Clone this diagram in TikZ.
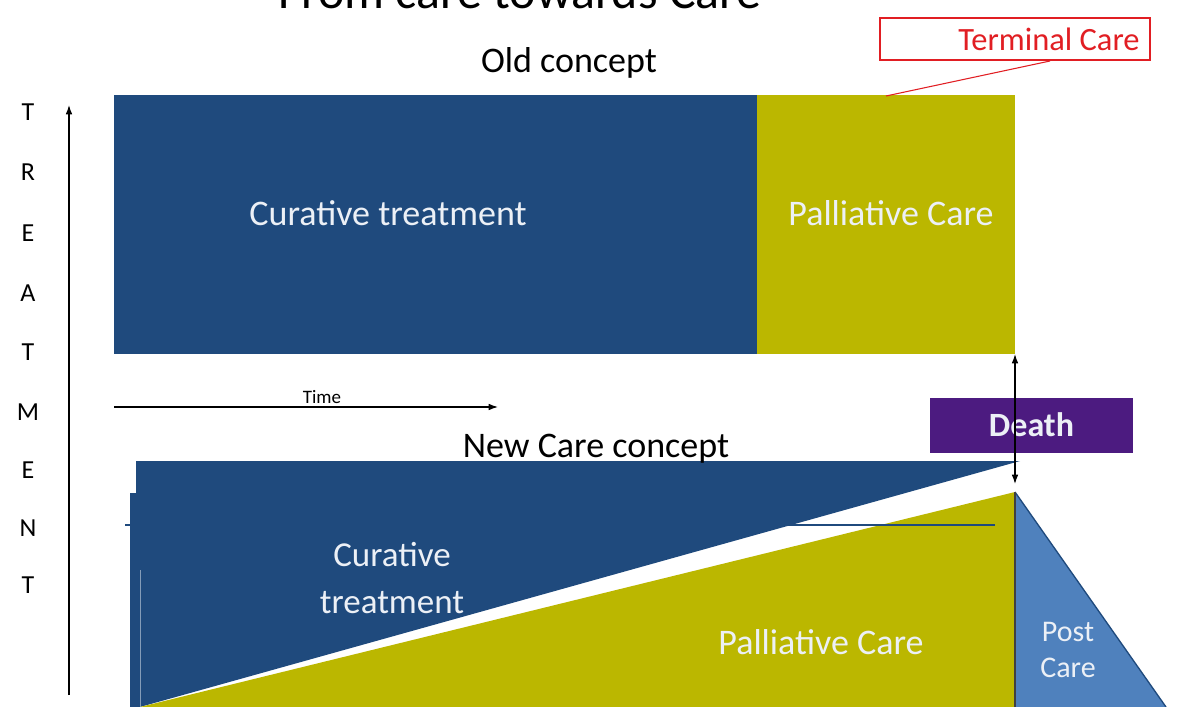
\documentclass[tikz,border=0pt]{standalone}
\usepackage{fontspec}
\setmainfont{Carlito}
\usetikzlibrary{arrows.meta}
\definecolor{navy}{RGB}{31,74,125}
\definecolor{olive}{RGB}{187,183,0}
\definecolor{postblue}{RGB}{79,129,189}
\definecolor{deathpurple}{RGB}{76,27,128}
\definecolor{termred}{RGB}{225,30,35}
\definecolor{paletext}{RGB}{236,240,246}
\newcommand{\px}[1]{\fontsize{\fpeval{0.75*#1}}{\fpeval{0.9*#1}}\selectfont}
\begin{document}
\begin{tikzpicture}[x=0.75pt,y=-0.75pt,
  lbl/.style={inner sep=0pt,font=\px{36}},
  wlbl/.style={lbl,text=paletext},
  axisletter/.style={inner sep=0pt,font=\px{26}},
  thinarrow/.style={-{Latex[length=7pt,width=5pt]},line width=0.9pt}]
\useasboundingbox (0,0) rectangle (1183,707);
\clip (0,0) rectangle (1183,707);
% title (cut off at the top)
\node[inner sep=0pt,anchor=base,font=\px{50}] (title) at (520,8) {From care towards Care};
% old concept
\node[lbl] (oldlbl) at (569,63) {Old concept};
\fill[navy] (114,95) rectangle (757,354);
\fill[olive] (757,95) rectangle (1015,354);
\node[wlbl] (cur1) at (388,213) {Curative treatment};
\node[wlbl] (pal1) at (891,213) {Palliative Care};
% terminal care callout
\node[draw=termred,line width=0.8pt,minimum width=270*0.75pt,minimum height=42*0.75pt,inner sep=0pt] (term) at (1015,39) {};
\node[inner sep=0pt,text=termred,font=\px{32.5}] (termtxt) at (1049,39) {Terminal Care};
\coordinate (termtip) at (886,96);
\draw[termred,line width=0.8pt] (1050,61) -- (termtip);
% treatment axis
\coordinate (ax0) at (69,695);
\coordinate (ax1) at (69,105);
\draw[thinarrow] (ax0) -- (ax1);
\foreach \l/\y [count=\i] in {T/112,R/172,E/233,A/293,T/352,M/412,E/470,N/528,T/585}
  \node[axisletter] (ax\i) at (28,\y) {\l};
% time arrow
\coordinate (t0) at (114,407);
\coordinate (t1) at (498,407);
\draw[thinarrow] (t0) -- (t1);
\node[inner sep=0pt,font=\px{19}] (timelbl) at (322,397) {Time};
% new concept
\fill[navy] (136,461) -- (1020,461) -- (140,707) -- (136,707) -- cycle;
\fill[navy] (130,493) rectangle (137,707);
\draw[white!45!navy,line width=0.7pt] (140,570) -- (140,707);
\fill[olive] (140,707) -- (1015,492) -- (1015,707) -- cycle;
\draw[navy,line width=1.5pt] (125,525) -- (995,525);
\fill[postblue] (1015,492) -- (1166,707) -- (1015,707) -- cycle;
\draw[navy,line width=1pt] (1015,492) -- (1166,707);
\draw[black!75,line width=1.2pt] (1015,492) -- (1015,707);
\node[lbl] (newlbl) at (596,449) {New Care concept};
\node[wlbl,align=center,font=\px{35},text depth=0pt] (cur2) at (392,578) {Curative\\[0.15em]treatment};
\node[wlbl] (pal2) at (821,642) {Palliative Care};
\node[lbl,text=paletext,align=center,font=\px{30}] (post) at (1068,650) {Post\\Care};
% death
\node[fill=deathpurple,minimum width=203*0.75pt,minimum height=55*0.75pt,inner sep=0pt,text=paletext,font=\bfseries\px{34}] (death) at (1031.5,425) {Death};
\coordinate (dtop) at (1015,354);
\coordinate (dbot) at (1015,484);
\draw[{Latex[length=7pt,width=5pt]}-{Latex[length=7pt,width=5pt]},line width=0.9pt] (dtop) -- (dbot);
\end{tikzpicture}
\end{document}
